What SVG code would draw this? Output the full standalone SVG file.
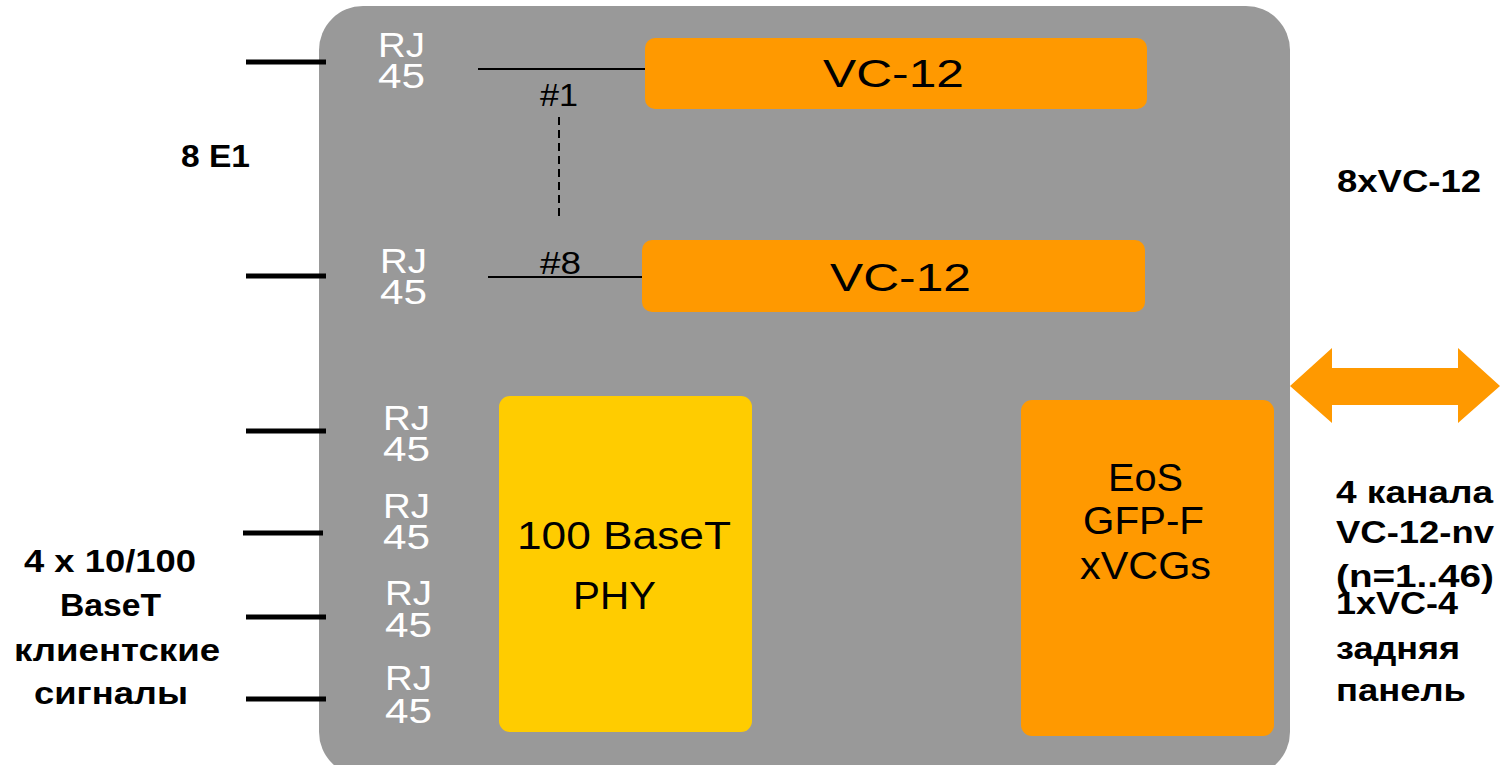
<svg xmlns="http://www.w3.org/2000/svg" width="1501" height="765" viewBox="0 0 1501 765">
<style>
.w{font-family:"Liberation Sans",Arial,sans-serif;fill:#ffffff;font-size:35px}
.b{font-family:"Liberation Sans",Arial,sans-serif;fill:#000000;font-weight:bold;font-size:32px}
.n{font-family:"Liberation Sans",Arial,sans-serif;fill:#000000;font-size:38px}
.h{font-family:"Liberation Sans",Arial,sans-serif;fill:#000000;font-size:32px}
.thick{stroke:#000;stroke-width:5;fill:none}
.thin{stroke:#000;stroke-width:2;fill:none}
</style>
<rect width="1501" height="765" fill="#ffffff"/>
<g id="card">
<rect x="319" y="6" width="971" height="770" rx="44" fill="#999999"/>
</g>
<g id="connectors">
<line class="thick" x1="246" y1="62" x2="326" y2="62"/>
<line class="thick" x1="246" y1="276" x2="326" y2="276"/>
<line class="thick" x1="246" y1="431" x2="326" y2="431"/>
<line class="thick" x1="243" y1="533" x2="323" y2="533"/>
<line class="thick" x1="246" y1="617" x2="326" y2="617"/>
<line class="thick" x1="246" y1="699" x2="326" y2="699"/>
<line class="thin" x1="478" y1="69" x2="646" y2="69"/>
<line class="thin" x1="488" y1="277" x2="643" y2="277"/>
<line class="thin" x1="559" y1="117" x2="559" y2="221" stroke-dasharray="8,5"/>
<polygon points="1290,386 1332,348 1332,368 1458,368 1458,348 1500,386 1458,423 1458,405 1332,405 1332,423" fill="#FF9900"/>
</g>
<g id="vc12-1">
<rect x="645" y="38" width="502" height="71" rx="10" fill="#FF9900"/>
<text class="n" x="823" y="87" textLength="141" lengthAdjust="spacingAndGlyphs">VC-12</text>
</g>
<g id="vc12-8">
<rect x="642" y="240" width="503" height="72" rx="10" fill="#FF9900"/>
<text class="n" x="830" y="291" textLength="141" lengthAdjust="spacingAndGlyphs">VC-12</text>
</g>
<g id="phy">
<rect x="499" y="396" width="253" height="336" rx="11" fill="#FFCC00"/>
<text class="n" x="517" y="549" textLength="214" lengthAdjust="spacingAndGlyphs">100 BaseT</text>
<text class="n" x="573" y="609" textLength="83" lengthAdjust="spacingAndGlyphs">PHY</text>
</g>
<g id="eos">
<rect x="1021" y="400" width="253" height="336" rx="11" fill="#FF9900"/>
<text class="n" x="1108" y="491" textLength="75" lengthAdjust="spacingAndGlyphs">EoS</text>
<text class="n" x="1083" y="534" textLength="121" lengthAdjust="spacingAndGlyphs">GFP-F</text>
<text class="n" x="1080" y="579" textLength="131" lengthAdjust="spacingAndGlyphs">xVCGs</text>
</g>
<g id="rj45">
<text class="w" x="378" y="57" textLength="47" lengthAdjust="spacingAndGlyphs">RJ</text>
<text class="w" x="378" y="88" textLength="47" lengthAdjust="spacingAndGlyphs">45</text>
<text class="w" x="380" y="273" textLength="47" lengthAdjust="spacingAndGlyphs">RJ</text>
<text class="w" x="380" y="304" textLength="47" lengthAdjust="spacingAndGlyphs">45</text>
<text class="w" x="383" y="430" textLength="47" lengthAdjust="spacingAndGlyphs">RJ</text>
<text class="w" x="383" y="461" textLength="47" lengthAdjust="spacingAndGlyphs">45</text>
<text class="w" x="383" y="518" textLength="47" lengthAdjust="spacingAndGlyphs">RJ</text>
<text class="w" x="383" y="549" textLength="47" lengthAdjust="spacingAndGlyphs">45</text>
<text class="w" x="385" y="605" textLength="47" lengthAdjust="spacingAndGlyphs">RJ</text>
<text class="w" x="385" y="637" textLength="47" lengthAdjust="spacingAndGlyphs">45</text>
<text class="w" x="385" y="690" textLength="47" lengthAdjust="spacingAndGlyphs">RJ</text>
<text class="w" x="385" y="723" textLength="47" lengthAdjust="spacingAndGlyphs">45</text>
</g>
<g id="channel-labels">
<text class="h" x="540" y="106" textLength="38" lengthAdjust="spacingAndGlyphs">#1</text>
<text class="h" x="540" y="274" textLength="41" lengthAdjust="spacingAndGlyphs">#8</text>
</g>
<g id="left-labels">
<text class="b" x="181" y="167" textLength="69" lengthAdjust="spacingAndGlyphs">8 E1</text>
<text class="b" x="24" y="572" textLength="172" lengthAdjust="spacingAndGlyphs">4 x 10/100</text>
<text class="b" x="60" y="616" textLength="101" lengthAdjust="spacingAndGlyphs">BaseT</text>
<text class="b" x="14" y="661" textLength="206" lengthAdjust="spacingAndGlyphs">клиентские</text>
<text class="b" x="34" y="704" textLength="154" lengthAdjust="spacingAndGlyphs">сигналы</text>
</g>
<g id="right-labels">
<text class="b" x="1337" y="192" textLength="144" lengthAdjust="spacingAndGlyphs">8xVC-12</text>
<text class="b" x="1336" y="503" textLength="157" lengthAdjust="spacingAndGlyphs">4 канала</text>
<text class="b" x="1336" y="543" textLength="158" lengthAdjust="spacingAndGlyphs">VC-12-nv</text>
<text class="b" x="1336" y="587" textLength="158" lengthAdjust="spacingAndGlyphs">(n=1..46)</text>
<text class="b" x="1336" y="614" textLength="122" lengthAdjust="spacingAndGlyphs">1xVC-4</text>
<text class="b" x="1336" y="659" textLength="124" lengthAdjust="spacingAndGlyphs">задняя</text>
<text class="b" x="1336" y="701" textLength="130" lengthAdjust="spacingAndGlyphs">панель</text>
</g>
</svg>
